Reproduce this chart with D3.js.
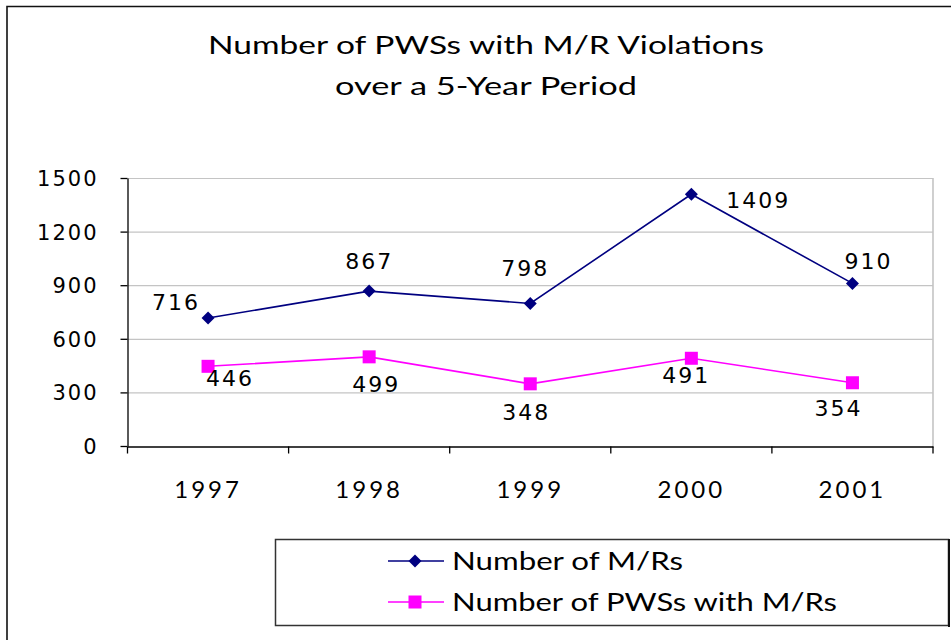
<!DOCTYPE html>
<html>
<head>
<meta charset="utf-8">
<script src="https://cdn.jsdelivr.net/npm/d3@7"></script>
<style>
	body { margin: 0; background: #fff; }
	svg { display: block; }
	.comic { font-family: "Comic Sans MS", "Lato", "Open Sans", sans-serif; }
	.verd { font-family: "DejaVu Sans", Verdana, sans-serif; }
</style>
</head>
<body>
<svg id="chart" width="951" height="640"></svg>
<script>
// Values
var years = ["1997", "1998", "1999", "2000", "2001"];
var mrCounts = [716, 867, 798, 1409, 910];
var pwsCounts = [446, 499, 348, 491, 354];
var yTicks = [0, 300, 600, 900, 1200, 1500];
var titleLines = ["Number of PWSs with M/R Violations", "over a 5-Year Period"];
var seriesNames = ["Number of M/Rs", "Number of PWSs with M/Rs"];

// Where Excel put each data label, relative to its point
var mrLabelShift = [[-32, -8], [0, -22], [-5, -27], [67, 14], [16, -14]];
var pwsLabelShift = [[22, 20], [7, 35], [-4, 36], [-5, 25], [-14, 33]];

function draw() {
	const svg = d3.select("#chart");

	// outer chart frame (runs off the right and bottom)
	svg.append("path")
		.attr("d", "M7,700 V6.5 H960")
		.attr("fill", "none")
		.attr("stroke", "#111")
		.attr("stroke-width", 1.6);

	// title
	const tw = [556, 302];
	svg.append("g").selectAll("text")
		.data(titleLines)
		.join("text")
		.attr("class", "comic")
		.attr("x", 486)
		.attr("y", (d, i) => 54 + i * 41)
		.attr("text-anchor", "middle")
		.attr("font-size", 25)
		.attr("textLength", (d, i) => tw[i])
		.attr("lengthAdjust", "spacingAndGlyphs")
		.attr("fill", "#000")
		.text(d => d);

	const x = d3.scaleBand().domain(years).range([127.5, 933]);
	const y = d3.scaleLinear().domain([0, 1500]).range([446, 178]);
	const cx = d => x(d) + x.bandwidth() / 2;

	// grid lines
	svg.append("g").selectAll("line")
		.data(yTicks.filter(t => t > 0))
		.join("line")
		.attr("x1", 128).attr("x2", 933)
		.attr("y1", d => y(d) + 0.5).attr("y2", d => y(d) + 0.5)
		.attr("stroke", "#c4c4c4").attr("stroke-width", 1.2);
	// plot-area right edge
	svg.append("line")
		.attr("x1", 933).attr("x2", 933)
		.attr("y1", y(1500)).attr("y2", y(0))
		.attr("stroke", "#c4c4c4").attr("stroke-width", 1.6);

	// y axis
	const yAxis = svg.append("g")
		.attr("transform", "translate(127.5,0)")
		.call(d3.axisLeft(y).tickValues(yTicks).tickFormat(d3.format("d"))
			.tickSize(7).tickSizeOuter(0).tickPadding(22));
	yAxis.select(".domain").attr("stroke", "#000").attr("stroke-width", 1.3);
	yAxis.selectAll(".tick line").attr("stroke", "#000").attr("stroke-width", 1.3);
	yAxis.selectAll("text")
		.attr("class", "verd")
		.attr("font-size", 21)
		.attr("letter-spacing", 2)
		.attr("fill", "#000")
		.attr("dy", "0.36em");

	// x axis
	const xAxis = svg.append("g")
		.attr("transform", "translate(0,446.5)")
		.call(d3.axisBottom(x).tickSize(0).tickSizeOuter(0).tickPadding(34));
	xAxis.select(".domain").attr("stroke", "#000").attr("stroke-width", 1.3);
	xAxis.selectAll("text")
		.attr("class", "comic")
		.attr("font-size", 24)
		.attr("letter-spacing", 3)
		.attr("fill", "#000");
	xAxis.append("g").selectAll("line")
		.data(years.concat([null]))
		.join("line")
		.attr("x1", d => d === null ? 933 : x(d))
		.attr("x2", d => d === null ? 933 : x(d))
		.attr("y1", 0).attr("y2", 7)
		.attr("stroke", "#000").attr("stroke-width", 1.3);

	const line = d3.line().x((d, i) => cx(years[i])).y(d => y(d));

	const series = [
		{ name: seriesNames[0], values: mrCounts, shift: mrLabelShift, color: "#000080", shape: "diamond", width: 231 },
		{ name: seriesNames[1], values: pwsCounts, shift: pwsLabelShift, color: "#ff00ff", shape: "square", width: 385 }
	];

	function marker(g, s) {
		if (s.shape === "diamond")
			g.append("path").attr("d", "M0,-6.5 L6.5,0 L0,6.5 L-6.5,0 Z").attr("fill", s.color);
		else
			g.append("rect").attr("x", -6.5).attr("y", -6.5).attr("width", 13).attr("height", 13).attr("fill", s.color);
	}

	series.forEach(s => {
		svg.append("path")
			.attr("d", line(s.values))
			.attr("fill", "none")
			.attr("stroke", s.color)
			.attr("stroke-width", 1.6);
		svg.append("g").selectAll("g")
			.data(s.values)
			.join("g")
			.attr("transform", (d, i) => `translate(${cx(years[i])},${y(d)})`)
			.each(function() { marker(d3.select(this), s); });
		svg.append("g").selectAll("text")
			.data(s.values)
			.join("text")
			.attr("class", "verd")
			.attr("x", (d, i) => cx(years[i]) + s.shift[i][0])
			.attr("y", (d, i) => y(d) + s.shift[i][1])
			.attr("text-anchor", "middle")
			.attr("font-size", 22)
			.attr("letter-spacing", 2)
			.attr("fill", "#000")
			.text(d => d);
	});

	// legend
	const lg = svg.append("g");
	lg.append("rect")
		.attr("x", 275.5).attr("y", 539.5).attr("width", 673).attr("height", 86)
		.attr("fill", "#fff").attr("stroke", "#333").attr("stroke-width", 1.5);
	lg.append("line")
		.attr("x1", 949).attr("x2", 949).attr("y1", 539).attr("y2", 627)
		.attr("stroke", "#111").attr("stroke-width", 2);
	series.forEach((s, i) => {
		const ly = 561 + i * 41;
		lg.append("line")
			.attr("x1", 388).attr("x2", 444).attr("y1", ly).attr("y2", ly)
			.attr("stroke", s.color).attr("stroke-width", 1.6);
		const m = lg.append("g").attr("transform", `translate(415,${ly})`);
		marker(m, s);
		lg.append("text")
			.attr("class", "comic")
			.attr("x", 452)
			.attr("y", ly + 9)
			.attr("font-size", 25)
			.attr("textLength", s.width)
			.attr("lengthAdjust", "spacingAndGlyphs")
			.attr("fill", "#000")
			.text(s.name);
	});
}

if (document.readyState === "complete" || document.readyState === "interactive") {
	draw();
} else {
	document.addEventListener("DOMContentLoaded", draw);
}
</script>
</body>
</html>
